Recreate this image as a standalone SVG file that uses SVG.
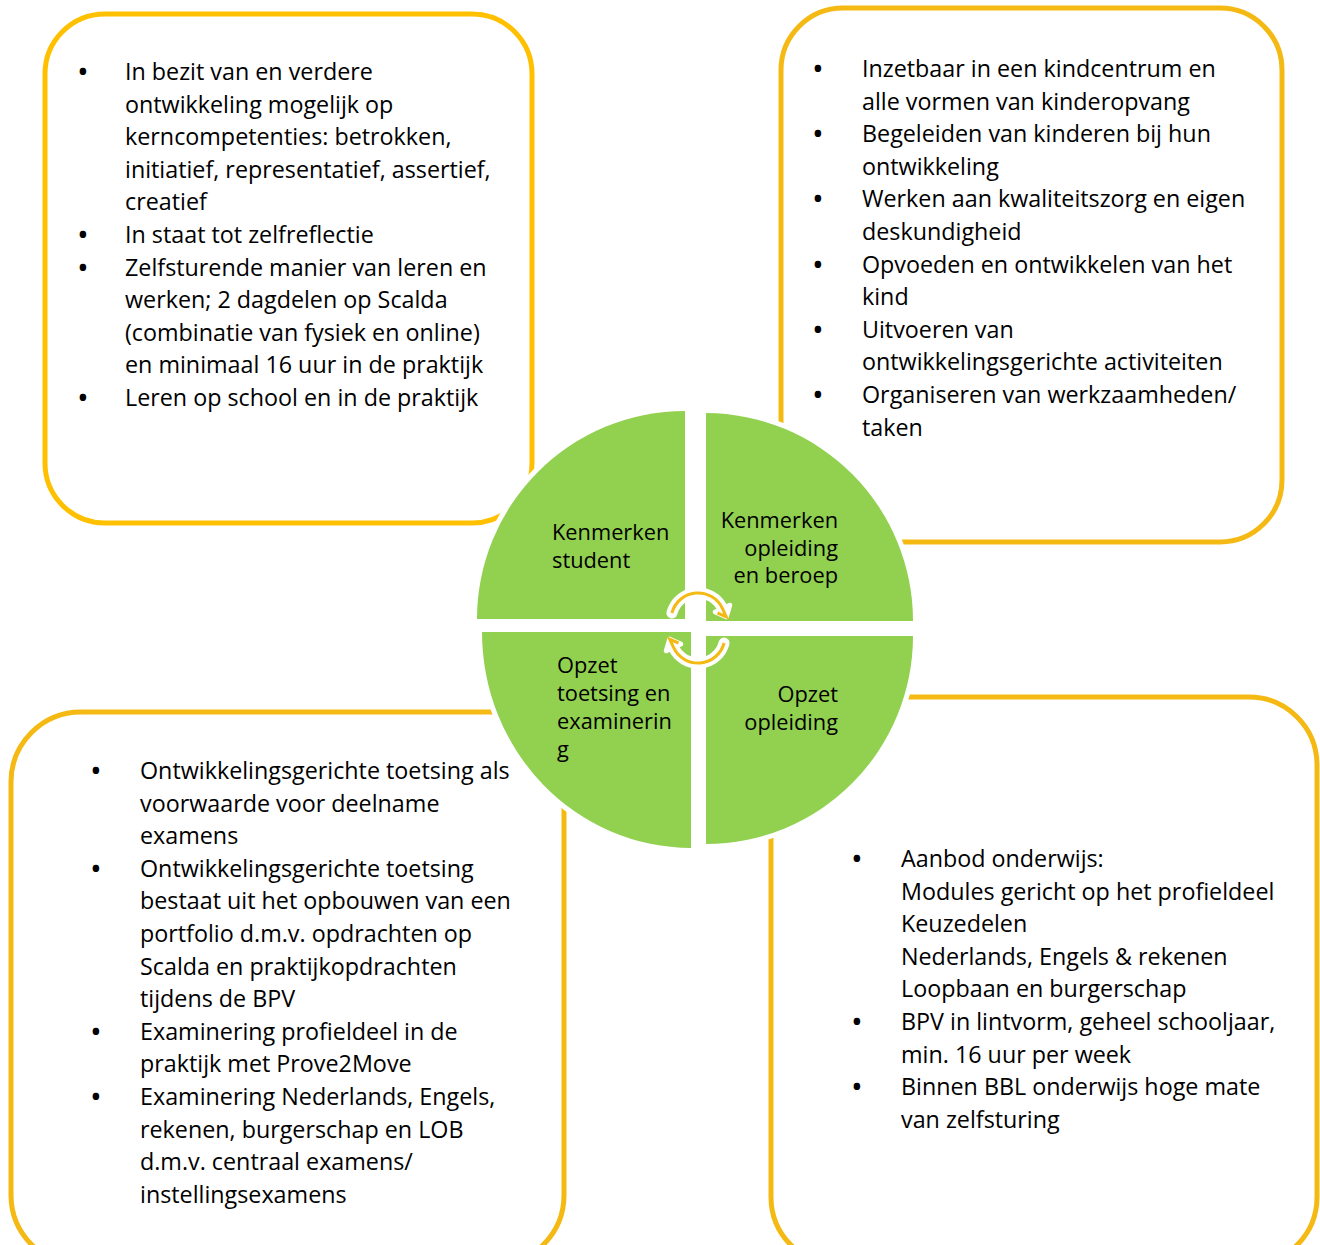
<svg xmlns="http://www.w3.org/2000/svg" width="1320" height="1245" viewBox="0 0 1320 1245">
<style>
.box{fill:#fff;stroke:#F5B914;stroke-width:5}
.box1{stroke:#FFC000}
.t{font-family:"Open Sans",Lato,"Liberation Sans",sans-serif;font-size:23.3px;fill:#000}
.c{font-family:"Open Sans",Lato,"Liberation Sans",sans-serif;font-size:21.8px;fill:#000}
.r{text-anchor:end}
.b{text-anchor:middle;font-weight:bold}
.q{fill:#92D050;stroke:#fff;stroke-width:10;paint-order:stroke}
.aw{fill:none;stroke:#fff;stroke-width:11;stroke-linecap:round;stroke-linejoin:round}
.awh{fill:#fff;stroke:#fff;stroke-width:5;stroke-linejoin:round}
.ao{fill:none;stroke:#F5B914;stroke-width:3;stroke-linejoin:miter}
</style>
<rect width="1320" height="1245" fill="#fff"/>

<g id="box-student">
<rect class="box box1" x="45" y="14" width="487" height="509" rx="60"/>
<text class="t b" x="83" y="80">•</text>
<text class="t" x="125" y="80">In bezit van en verdere</text>
<text class="t" x="125" y="112.6">ontwikkeling mogelijk op</text>
<text class="t" x="125" y="145.2">kerncompetenties: betrokken,</text>
<text class="t" x="125" y="177.8">initiatief, representatief, assertief,</text>
<text class="t" x="125" y="210.4">creatief</text>
<text class="t b" x="83" y="243">•</text>
<text class="t" x="125" y="243">In staat tot zelfreflectie</text>
<text class="t b" x="83" y="275.6">•</text>
<text class="t" x="125" y="275.6">Zelfsturende manier van leren en</text>
<text class="t" x="125" y="308.2">werken; 2 dagdelen op Scalda</text>
<text class="t" x="125" y="340.8">(combinatie van fysiek en online)</text>
<text class="t" x="125" y="373.4">en minimaal 16 uur in de praktijk</text>
<text class="t b" x="83" y="406">•</text>
<text class="t" x="125" y="406">Leren op school en in de praktijk</text>
</g>

<g id="box-beroep">
<rect class="box" x="781" y="8" width="501" height="534" rx="62"/>
<text class="t b" x="818" y="77">•</text>
<text class="t" x="862" y="77">Inzetbaar in een kindcentrum en</text>
<text class="t" x="862" y="109.6">alle vormen van kinderopvang</text>
<text class="t b" x="818" y="142.2">•</text>
<text class="t" x="862" y="142.2">Begeleiden van kinderen bij hun</text>
<text class="t" x="862" y="174.8">ontwikkeling</text>
<text class="t b" x="818" y="207.4">•</text>
<text class="t" x="862" y="207.4">Werken aan kwaliteitszorg en eigen</text>
<text class="t" x="862" y="240">deskundigheid</text>
<text class="t b" x="818" y="272.6">•</text>
<text class="t" x="862" y="272.6">Opvoeden en ontwikkelen van het</text>
<text class="t" x="862" y="305.2">kind</text>
<text class="t b" x="818" y="337.8">•</text>
<text class="t" x="862" y="337.8">Uitvoeren van</text>
<text class="t" x="862" y="370.4">ontwikkelingsgerichte activiteiten</text>
<text class="t b" x="818" y="403">•</text>
<text class="t" x="862" y="403">Organiseren van werkzaamheden/</text>
<text class="t" x="862" y="435.6">taken</text>
</g>

<g id="box-toetsing">
<rect class="box" x="11" y="712" width="553" height="553" rx="70"/>
<text class="t b" x="96" y="779">•</text>
<text class="t" x="140" y="779">Ontwikkelingsgerichte toetsing als</text>
<text class="t" x="140" y="811.6">voorwaarde voor deelname</text>
<text class="t" x="140" y="844.2">examens</text>
<text class="t b" x="96" y="876.8">•</text>
<text class="t" x="140" y="876.8">Ontwikkelingsgerichte toetsing</text>
<text class="t" x="140" y="909.4">bestaat uit het opbouwen van een</text>
<text class="t" x="140" y="942">portfolio d.m.v. opdrachten op</text>
<text class="t" x="140" y="974.6">Scalda en praktijkopdrachten</text>
<text class="t" x="140" y="1007.2">tijdens de BPV</text>
<text class="t b" x="96" y="1039.8">•</text>
<text class="t" x="140" y="1039.8">Examinering profieldeel in de</text>
<text class="t" x="140" y="1072.4">praktijk met Prove2Move</text>
<text class="t b" x="96" y="1105">•</text>
<text class="t" x="140" y="1105">Examinering Nederlands, Engels,</text>
<text class="t" x="140" y="1137.6">rekenen, burgerschap en LOB</text>
<text class="t" x="140" y="1170.2">d.m.v. centraal examens/</text>
<text class="t" x="140" y="1202.8">instellingsexamens</text>
</g>

<g id="box-opleiding">
<rect class="box" x="771" y="697" width="546" height="568" rx="68"/>
<text class="t b" x="857" y="867">•</text>
<text class="t" x="901" y="867">Aanbod onderwijs:</text>
<text class="t" x="901" y="899.6">Modules gericht op het profieldeel</text>
<text class="t" x="901" y="932.2">Keuzedelen</text>
<text class="t" x="901" y="964.8">Nederlands, Engels &amp; rekenen</text>
<text class="t" x="901" y="997.4">Loopbaan en burgerschap</text>
<text class="t b" x="857" y="1030">•</text>
<text class="t" x="901" y="1030">BPV in lintvorm, geheel schooljaar,</text>
<text class="t" x="901" y="1062.6">min. 16 uur per week</text>
<text class="t b" x="857" y="1095.2">•</text>
<text class="t" x="901" y="1095.2">Binnen BBL onderwijs hoge mate</text>
<text class="t" x="901" y="1127.8">van zelfsturing</text>
</g>

<g id="q-student">
<path class="q" d="M685,619 L477,619 A208,208 0 0 1 685,411 Z"/>
<text class="c" x="552" y="540">Kenmerken</text>
<text class="c" x="552" y="568">student</text>
</g>
<g id="q-beroep">
<path class="q" d="M706,621 L706,413 A208,208 0 0 1 913,621 Z"/>
<text class="c r" x="838" y="528">Kenmerken</text>
<text class="c r" x="838" y="556">opleiding</text>
<text class="c r" x="838" y="583">en beroep</text>
</g>
<g id="q-opleiding">
<path class="q" d="M706,636 L913,636 A207,208 0 0 1 706,844 Z"/>
<text class="c r" x="838" y="702">Opzet</text>
<text class="c r" x="838" y="730">opleiding</text>
</g>
<g id="q-toetsing">
<path class="q" d="M691,632 L691,848 A209,216 0 0 1 482,632 Z"/>
<text class="c" x="557" y="673">Opzet</text>
<text class="c" x="557" y="701">toetsing en</text>
<text class="c" x="557" y="729">examinerin</text>
<text class="c" x="557" y="757">g</text>
</g>

<g id="connectors">
<path class="aw" d="M671.9,613 A27,27 0 0 1 722.5,608.6"/>
<polygon class="awh" points="729.7,605.2 715.3,612 726.3,616.8"/>
<path class="ao" d="M671.9,613 A27,27 0 0 1 722.5,608.6 L726.3,616.8 L717.5,613"/>
<path class="aw" d="M724.1,643 A27,27 0 0 1 673.5,647.4"/>
<polygon class="awh" points="666.3,650.8 680.7,644 669.7,639.2"/>
<path class="ao" d="M724.1,643 A27,27 0 0 1 673.5,647.4 L669.7,639.2 L678.5,643"/>
</g>
</svg>
